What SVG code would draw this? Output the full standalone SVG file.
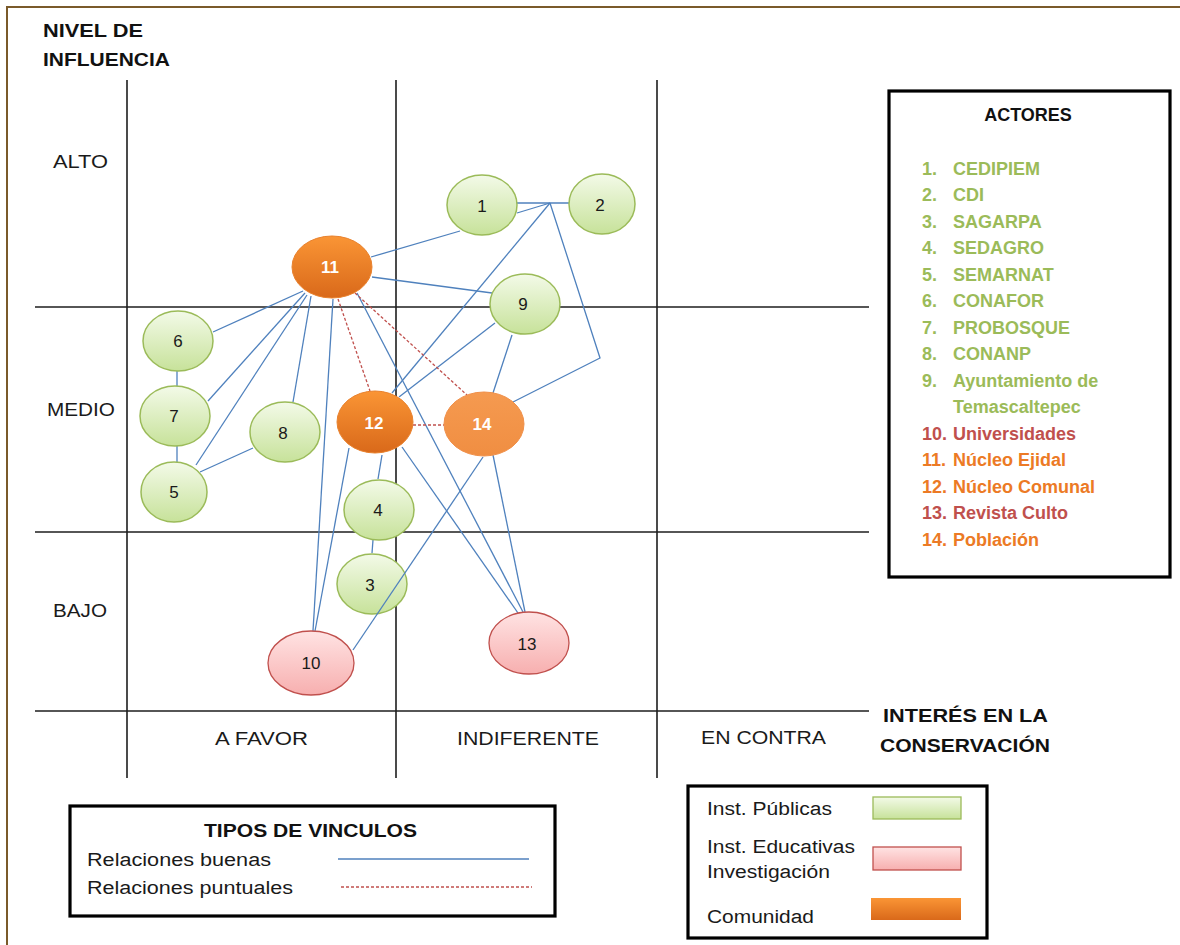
<svg xmlns="http://www.w3.org/2000/svg" width="1180" height="945" viewBox="0 0 1180 945">
<defs>
<linearGradient id="gGreen" x1="0" y1="0" x2="0" y2="1">
<stop offset="0" stop-color="#F3FAE8"/><stop offset="1" stop-color="#C7E29A"/>
</linearGradient>
<linearGradient id="gOrange" x1="0" y1="0" x2="0" y2="1">
<stop offset="0" stop-color="#FA9535"/><stop offset="1" stop-color="#D9691A"/>
</linearGradient>
<linearGradient id="gOrangeL" x1="0" y1="0" x2="0" y2="1">
<stop offset="0" stop-color="#F59A50"/><stop offset="1" stop-color="#F08E42"/>
</linearGradient>
<linearGradient id="gPink" x1="0" y1="0" x2="0" y2="1">
<stop offset="0" stop-color="#FFE3E3"/><stop offset="1" stop-color="#F7AFAF"/>
</linearGradient>
</defs>
<style>
.grid{stroke:#1f1f1f;stroke-width:1.6;fill:none}
.frame{stroke:#7A5A2A;stroke-width:2;fill:none}
.good{stroke:#4F81BD;stroke-width:1.3;fill:none}
.punt{stroke:#C0504D;stroke-width:1.3;stroke-dasharray:3 2;fill:none}
.ng{fill:url(#gGreen);stroke:#9BBB59;stroke-width:1.5}
.no{fill:url(#gOrange);stroke:#E9822E;stroke-width:1}
.nol{fill:url(#gOrangeL);stroke:#F0904A;stroke-width:1}
.np{fill:url(#gPink);stroke:#C0504D;stroke-width:1.3}
.nt{font-family:"Liberation Sans",Arial,sans-serif;font-size:17px;fill:#1a1a1a;text-anchor:middle}
.ntw{font-family:"Liberation Sans",Arial,sans-serif;font-size:17px;font-weight:bold;fill:#ffffff;text-anchor:middle}
.lab{font-family:"Liberation Sans",Arial,sans-serif;font-size:19px;fill:#1a1a1a}
.bold{font-family:"Liberation Sans",Arial,sans-serif;font-size:18px;font-weight:bold;fill:#111}
.leg{font-family:"Liberation Sans",Arial,sans-serif;font-size:18px;fill:#1a1a1a}
.box{fill:#ffffff;stroke:#000;stroke-width:3.2}
.act{font-family:"Liberation Sans",Arial,sans-serif;font-size:18px;font-weight:bold}
.gr{fill:#9BBB59}.rd{fill:#C0504D}.or{fill:#EC7A25}
</style>
<rect x="0" y="0" width="1180" height="945" fill="#ffffff"/>
<g id="frame">
<path class="frame" d="M6,7 H1180 M7,7 V945"/>
</g>
<g id="grid">
<path class="grid" d="M127,80 V778 M396,80 V778 M657,80 V778 M35,307 H869 M35,532 H869 M35,711 H869"/>
</g>
<g id="axis-labels">
<text class="bold" x="43" y="37" textLength="100" lengthAdjust="spacingAndGlyphs">NIVEL  DE</text>
<text class="bold" x="43" y="66" textLength="127" lengthAdjust="spacingAndGlyphs">INFLUENCIA</text>
<text class="lab" x="53" y="168" textLength="55" lengthAdjust="spacingAndGlyphs">ALTO</text>
<text class="lab" x="47" y="416" textLength="68" lengthAdjust="spacingAndGlyphs">MEDIO</text>
<text class="lab" x="53" y="617" textLength="54" lengthAdjust="spacingAndGlyphs">BAJO</text>
<text class="lab" x="215" y="745" textLength="93" lengthAdjust="spacingAndGlyphs">A FAVOR</text>
<text class="lab" x="457" y="745" textLength="142" lengthAdjust="spacingAndGlyphs">INDIFERENTE</text>
<text class="lab" x="701" y="744" textLength="125" lengthAdjust="spacingAndGlyphs">EN CONTRA</text>
<text class="bold" x="883" y="722" textLength="165" lengthAdjust="spacingAndGlyphs">INTERÉS  EN LA</text>
<text class="bold" x="880" y="752" textLength="170" lengthAdjust="spacingAndGlyphs">CONSERVACIÓN</text>
</g>
<g id="node-3"><ellipse class="ng" cx="372" cy="584" rx="35" ry="30"/><text class="nt" x="370" y="591">3</text></g>
<g id="connectors">
<path class="good" d="M516,203 L583,203"/>
<path class="good" d="M517,213 L550,203"/>
<path class="good" d="M550,203 L392,393"/>
<path class="good" d="M550,203 L600,358 L513,402"/>
<path class="good" d="M371,257 L460,231"/>
<path class="good" d="M372,277 L492,293"/>
<path class="good" d="M495,323 L399,397"/>
<path class="good" d="M512,335 L493,393"/>
<path class="good" d="M303,291 L213,332"/>
<path class="good" d="M305,293 L208,401"/>
<path class="good" d="M307,295 L196,465"/>
<path class="good" d="M311,296 L293,402"/>
<path class="good" d="M333,299 L313,631"/>
<path class="good" d="M349,448 L315,631"/>
<path class="good" d="M382,455 L378,479"/>
<path class="good" d="M373,540 L372,553"/>
<path class="good" d="M177,371 L177,386"/>
<path class="good" d="M177,446 L177,462"/>
<path class="good" d="M200,472 L253,448"/>
<path class="good" d="M357,293 L523,612"/>
<path class="good" d="M402,447 L518,613"/>
<path class="good" d="M493,455 L525,612"/>
<path class="good" d="M353,650 L483,457"/>
<path class="punt" d="M338,299 L370,391"/>
<path class="punt" d="M355,293 L467,395"/>
<path class="punt" d="M413,425 L444,425"/>
</g>
<g id="node-1"><ellipse class="ng" cx="482" cy="205" rx="35" ry="30"/><text class="nt" x="482" y="212">1</text></g>
<g id="node-2"><ellipse class="ng" cx="602" cy="204" rx="33" ry="30"/><text class="nt" x="600" y="211">2</text></g>
<g id="node-4"><ellipse class="ng" cx="379" cy="510" rx="35" ry="30"/><text class="nt" x="378" y="516">4</text></g>
<g id="node-5"><ellipse class="ng" cx="174" cy="492" rx="33" ry="30"/><text class="nt" x="174" y="498">5</text></g>
<g id="node-6"><ellipse class="ng" cx="178" cy="341" rx="35" ry="30"/><text class="nt" x="178" y="347">6</text></g>
<g id="node-7"><ellipse class="ng" cx="175" cy="416" rx="35" ry="30"/><text class="nt" x="174" y="422">7</text></g>
<g id="node-8"><ellipse class="ng" cx="285" cy="432" rx="35" ry="30"/><text class="nt" x="283" y="439">8</text></g>
<g id="node-9"><ellipse class="ng" cx="525" cy="304" rx="35" ry="30"/><text class="nt" x="523" y="310">9</text></g>
<g id="node-10"><ellipse class="np" cx="311" cy="663" rx="43" ry="32"/><text class="nt" x="311" y="669">10</text></g>
<g id="node-11"><ellipse class="no" cx="332" cy="267" rx="40" ry="31"/><text class="ntw" x="330" y="273">11</text></g>
<g id="node-12"><ellipse class="no" cx="375" cy="422" rx="38" ry="31"/><text class="ntw" x="374" y="429">12</text></g>
<g id="node-13"><ellipse class="np" cx="529" cy="643" rx="40" ry="31"/><text class="nt" x="527" y="650">13</text></g>
<g id="node-14"><ellipse class="nol" cx="484" cy="424" rx="40" ry="32"/><text class="ntw" x="482" y="430">14</text></g>
<g id="actores">
<rect class="box" x="889" y="91" width="281" height="486"/>
<text class="act" x="1028" y="121" text-anchor="middle" fill="#111" font-size="17">ACTORES</text>
<g class="act">
<text class="gr" x="922" y="175">1.</text><text class="gr" x="953" y="175">CEDIPIEM</text>
<text class="gr" x="922" y="201">2.</text><text class="gr" x="953" y="201">CDI</text>
<text class="gr" x="922" y="228">3.</text><text class="gr" x="953" y="228">SAGARPA</text>
<text class="gr" x="922" y="254">4.</text><text class="gr" x="953" y="254">SEDAGRO</text>
<text class="gr" x="922" y="281">5.</text><text class="gr" x="953" y="281">SEMARNAT</text>
<text class="gr" x="922" y="307">6.</text><text class="gr" x="953" y="307">CONAFOR</text>
<text class="gr" x="922" y="334">7.</text><text class="gr" x="953" y="334">PROBOSQUE</text>
<text class="gr" x="922" y="360">8.</text><text class="gr" x="953" y="360">CONANP</text>
<text class="gr" x="922" y="387">9.</text><text class="gr" x="953" y="387">Ayuntamiento de</text>
<text class="gr" x="953" y="413">Temascaltepec</text>
<text class="rd" x="922" y="440">10.</text><text class="rd" x="953" y="440">Universidades</text>
<text class="or" x="922" y="466">11.</text><text class="or" x="953" y="466">Núcleo Ejidal</text>
<text class="or" x="922" y="493">12.</text><text class="or" x="953" y="493">Núcleo Comunal</text>
<text class="rd" x="922" y="519">13.</text><text class="rd" x="953" y="519">Revista Culto</text>
<text class="or" x="922" y="546">14.</text><text class="or" x="953" y="546">Población</text>
</g>
</g>
<g id="legend-vinculos">
<rect class="box" x="70" y="806" width="485" height="110"/>
<text class="bold" x="204" y="837" textLength="213" lengthAdjust="spacingAndGlyphs">TIPOS DE VINCULOS</text>
<text class="leg" x="87" y="866" textLength="184" lengthAdjust="spacingAndGlyphs">Relaciones  buenas</text>
<text class="leg" x="87" y="894" textLength="206" lengthAdjust="spacingAndGlyphs">Relaciones  puntuales</text>
<path class="good" d="M338,859 H529"/>
<path class="punt" d="M341,887 H532"/>
</g>
<g id="legend-tipos">
<rect class="box" x="688" y="786" width="299" height="152"/>
<text class="leg" x="707" y="815" textLength="125" lengthAdjust="spacingAndGlyphs">Inst. Públicas</text>
<text class="leg" x="707" y="853" textLength="148" lengthAdjust="spacingAndGlyphs">Inst. Educativas</text>
<text class="leg" x="707" y="878" textLength="123" lengthAdjust="spacingAndGlyphs">Investigación</text>
<text class="leg" x="707" y="923" textLength="107" lengthAdjust="spacingAndGlyphs">Comunidad</text>
<rect x="873" y="797" width="88" height="22" fill="url(#gGreen)" stroke="#9BBB59" stroke-width="1.3"/>
<rect x="873" y="847" width="88" height="23" fill="url(#gPink)" stroke="#C0504D" stroke-width="1.3"/>
<rect x="871" y="898" width="90" height="22" fill="url(#gOrange)"/>
</g>
</svg>
